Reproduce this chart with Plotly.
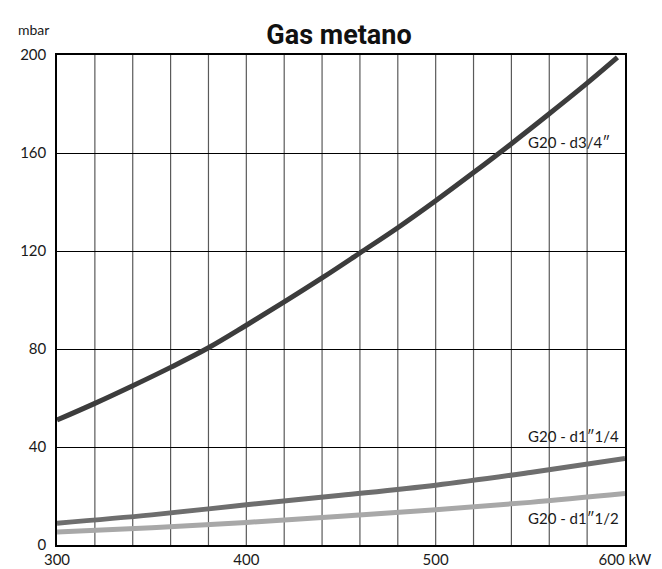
import plotly.graph_objects as go

# Data
x_d34 = [300, 320, 340, 360, 380, 400, 420, 440, 460, 480, 500, 520, 540, 560, 580, 596]
y_d34 = [51, 57.8, 65, 72.5, 80.5, 89.7, 99.2, 109, 119.2, 129.5, 140.5, 152, 163.8, 176, 188.5, 199]

x_d114 = [300, 350, 400, 450, 500, 550, 600]
y_d114 = [8.9, 12.3, 16.4, 20.3, 24.4, 29.6, 35.3]

x_d112 = [300, 350, 400, 450, 500, 550, 600]
y_d112 = [5.3, 7.05, 9.2, 11.7, 14.4, 17.4, 21.0]

x_tickvals = [300, 400, 500, 600]
x_ticktext = ["300", "400", "500", "600 kW"]
y_tickvals = [0, 40, 80, 120, 160, 200]

label_font = dict(family="Lato, Open Sans, sans-serif", size=15, color="#1a1a1a", weight=400)
tick_font = dict(family="Lato, Open Sans, sans-serif", size=15, color="#1a1a1a", weight=400)

fig = go.Figure()
fig.add_trace(go.Scatter(x=x_d112, y=y_d112, mode="lines", line=dict(color="#a8a8a8", width=5, shape="spline"), showlegend=False))
fig.add_trace(go.Scatter(x=x_d114, y=y_d114, mode="lines", line=dict(color="#6e6e6e", width=5, shape="spline"), showlegend=False))
fig.add_trace(go.Scatter(x=x_d34, y=y_d34, mode="lines", line=dict(color="#3c3c3c", width=5, shape="spline", smoothing=1.0), showlegend=False))

# vertical grid lines every 20
grid_x = list(range(320, 600, 20))
for gx in grid_x:
    fig.add_shape(type="line", x0=gx, x1=gx, y0=0, y1=200, xref="x", yref="y",
                  line=dict(color="#5a5a5a", width=1.2), layer="below")

fig.update_layout(
    width=662, height=569,
    margin=dict(l=49, r=45, t=47, b=32, autoexpand=False),
    paper_bgcolor="white", plot_bgcolor="white",
    title=dict(text="<b>Gas metano</b>", x=0.5, xanchor="center", y=0.953, yanchor="middle",
               font=dict(family="Roboto, Liberation Sans, sans-serif", size=27, color="#111")),
    xaxis=dict(range=[300, 600], tickvals=x_tickvals, ticktext=x_ticktext, showgrid=False,
               zeroline=False, showline=True, linecolor="black", linewidth=1.5, mirror=True,
               ticks="", automargin=False, tickfont=tick_font),
    yaxis=dict(range=[0, 200], tickvals=y_tickvals, showgrid=True, gridcolor="black", gridwidth=1.2,
               zeroline=False, showline=True, linecolor="black", linewidth=1.5, mirror=True,
               ticks="", ticklabelstandoff=6, automargin=False, tickfont=tick_font),
    annotations=[
        dict(text="mbar", xref="paper", yref="paper", x=-0.072, y=1.03, xanchor="left", yanchor="bottom",
             showarrow=False, font=dict(family="Lato, Open Sans, sans-serif", size=14, color="#1a1a1a", weight=400)),
        dict(text="G20 - d3/4″", xref="x", yref="y", x=593, y=160, xanchor="right", yanchor="bottom",
             showarrow=False, font=label_font),
        dict(text="G20 - d1″1/4", xref="x", yref="y", x=598, y=40, xanchor="right", yanchor="bottom",
             showarrow=False, font=label_font),
        dict(text="G20 - d1″1/2", xref="x", yref="y", x=598, y=11, xanchor="right", yanchor="middle",
             showarrow=False, font=label_font),
    ],
)

fig.write_html("out.html")
